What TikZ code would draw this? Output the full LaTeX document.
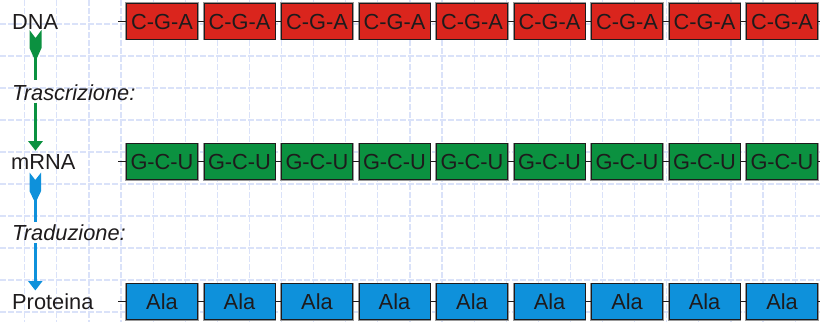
\documentclass[tikz,border=0pt]{standalone}
\usepackage{fontspec}
\setmainfont{Liberation Sans}
\usetikzlibrary{arrows.meta}

\definecolor{gridc}{RGB}{218,226,249}
\definecolor{dnared}{RGB}{218,37,29}
\definecolor{rnagreen}{RGB}{11,145,64}
\definecolor{protblue}{RGB}{14,145,219}
\definecolor{ink}{RGB}{30,27,28}

\begin{document}
\begin{tikzpicture}[x=1pt,y=-1pt,
  every node/.style={font=\fontsize{21.8}{24}\selectfont, text=ink},
  rowlabel/.style={anchor=base west, inner sep=0pt},
  steplabel/.style={rowlabel, font=\fontsize{21.8}{24}\selectfont\itshape},
  codon/.style={minimum width=71pt, minimum height=35.5pt, inner sep=0pt,
    text height=15.6pt, text depth=0pt, draw=ink, line width=1pt,
    preaction={draw=black!40, line width=2.6pt}},
  bond/.style={draw=ink, line width=1.3pt},
  gridline/.style={draw=gridc, line width=1.2pt, dash pattern=on 6pt off 2pt},
  shaft/.style={line width=3pt},
  head/.style={-{Triangle[width=14pt,length=9.5pt]}}
]
\useasboundingbox (0,0) rectangle (820,322);

% background grid
\begin{scope}
  \clip (0,0) rectangle (820,322);
  \foreach \k in {0,...,24} \draw[gridline] (24.7+32.1*\k,0) -- (24.7+32.1*\k,322);
  \foreach \k in {0,...,9} \draw[gridline] (0,24+32*\k) -- (820,24+32*\k);
\end{scope}

% row labels
\node[rowlabel] (dna) at (12,29.3) {DNA};
\node[steplabel] (trasc) at (12,100) {Trascrizione:};
\node[rowlabel] (mrna) at (11,169.6) {mRNA};
\node[steplabel] (tradu) at (12,240.5) {Traduzione:};
\node[rowlabel] (prot) at (12,309.8) {Proteina};

% the three chains
\foreach \i in {0,...,8} {
  \node[codon, fill=dnared]   (d\i) at (162+77.5*\i,21.3)  {C-G-A};
  \node[codon, fill=rnagreen] (m\i) at (162+77.5*\i,161.7) {G-C-U};
  \node[codon, fill=protblue] (p\i) at (162+77.5*\i,301.7) {Ala};
}
\coordinate (d-in) at (118,21.3);   \coordinate (d-out) at (820,21.3);
\coordinate (m-in) at (118,161.7);  \coordinate (m-out) at (820,161.7);
\coordinate (p-in) at (118,301.7);  \coordinate (p-out) at (820,301.7);
\foreach \r in {d,m,p} {
  \draw[bond] (\r-in) -- (\r0);
  \draw[bond] (\r8) -- (\r-out);
  \foreach \i [evaluate=\i as \j using int(\i+1)] in {0,...,7}
    \draw[bond] (\r\i) -- (\r\j);
}

% transcription arrow
\coordinate (g-tail) at (35.5,57);
\coordinate (g-gap1) at (35.5,80);
\coordinate (g-gap2) at (35.5,102.5);
\coordinate (g-tip)  at (35.5,150.7);
\fill[rnagreen] (35.5,38) -- (29.5,30) -- (29.5,48) -- (34,58) -- (37,58)
  -- (41.5,48) -- (41.5,30) -- cycle;
\draw[rnagreen, shaft] (g-tail) -- (g-gap1);
\draw[rnagreen, shaft, head] (g-gap2) -- (g-tip);

% translation arrow
\coordinate (b-tail) at (35.3,199);
\coordinate (b-gap1) at (35.3,221.7);
\coordinate (b-gap2) at (35.3,243);
\coordinate (b-tip)  at (35.3,290.5);
\fill[protblue] (35.3,180) -- (29.5,172.5) -- (29.5,191) -- (33.8,200) -- (36.8,200)
  -- (41.1,191) -- (41.1,172.5) -- cycle;
\draw[protblue, shaft] (b-tail) -- (b-gap1);
\draw[protblue, shaft, head] (b-gap2) -- (b-tip);
\end{tikzpicture}
\end{document}
